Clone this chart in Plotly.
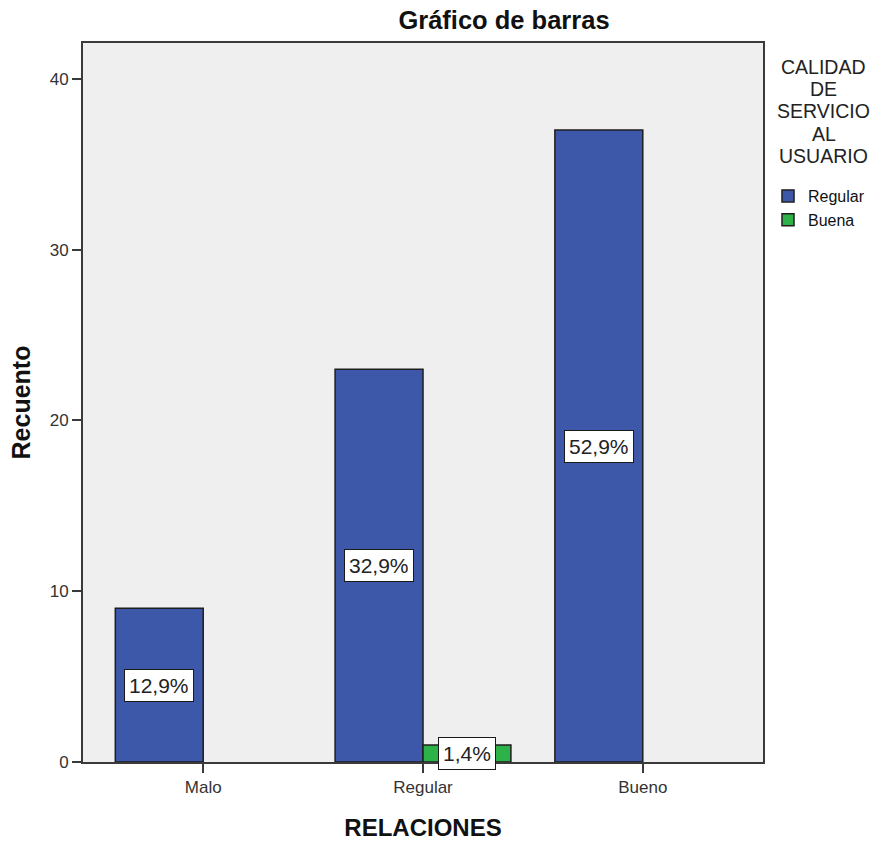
import plotly.graph_objects as go

# Counts of "CALIDAD DE SERVICIO AL USUARIO" by "RELACIONES" level
categories = ["Malo", "Regular", "Bueno"]
series_names = ["Regular", "Buena"]
regular_counts = [9, 23, 37]
buena_counts = [None, 1, None]
y_ticks = [0, 10, 20, 30, 40]
legend_title_lines = ["CALIDAD", "DE", "SERVICIO", "AL", "USUARIO"]

series_values = [regular_counts, buena_counts]
series_colors = ["#3D57A9", "#2DB24A"]
total = sum(v for s in series_values for v in s if v is not None)

FONT = "Liberation Sans, Arial, sans-serif"
W, H = 877, 841
M_L, M_R, M_T, M_B = 83, 114, 43, 79
PLOT_W = W - M_L - M_R
PLOT_H = H - M_T - M_B

fig = go.Figure()
for name, vals, color in zip(series_names, series_values, series_colors):
    fig.add_trace(go.Bar(
        x=categories,
        y=vals,
        name=name,
        marker=dict(color=color, line=dict(color="#1E1E1E", width=1.5)),
    ))

# Percentage boxes at the middle of each bar
n_series = len(series_values)
bar_w = 0.8 / n_series
for s_idx, vals in enumerate(series_values):
    offset = -0.4 + bar_w * (s_idx + 0.5)
    for c_idx, v in enumerate(vals):
        if v is None:
            continue
        pct = f"{v / total * 100:.1f}%".replace(".", ",")
        fig.add_annotation(
            x=c_idx + offset, y=v / 2, xref="x", yref="y",
            text=pct, showarrow=False,
            font=dict(family=FONT, size=21, color="#222222"),
            bgcolor="white", bordercolor="#1A1A1A", borderwidth=1, borderpad=4,
        )

# Legend heading, one centred line at a time with tight spacing
title_cx = 824
for i, line in enumerate(legend_title_lines):
    ypx = 67 + 22.2 * i
    fig.add_annotation(
        x=(title_cx - M_L) / PLOT_W, y=(H - M_B - ypx) / PLOT_H,
        xref="paper", yref="paper", xanchor="center", yanchor="middle",
        text=line, showarrow=False,
        font=dict(family=FONT, size=19.5, color="#222222"),
    )

fig.update_layout(
    width=W, height=H,
    margin=dict(l=M_L, r=M_R, t=M_T, b=M_B, autoexpand=False),
    paper_bgcolor="white",
    plot_bgcolor="#EFEFEF",
    barmode="group",
    bargap=0.2,
    bargroupgap=0,
    font=dict(family=FONT, color="#222222"),
    title=dict(
        text="Gráfico de barras",
        font=dict(family=FONT, size=25.5, color="#111111", weight="bold"),
        x=504 / W, xref="container", xanchor="center",
        y=1 - 20 / H, yref="container", yanchor="middle",
    ),
    legend=dict(
        font=dict(family=FONT, size=16, color="#111111"),
        xref="container", yref="container",
        x=768 / W, xanchor="left",
        y=1 - 179 / H, yanchor="top",
        bgcolor="rgba(0,0,0,0)",
        itemwidth=30,
        tracegroupgap=0,
    ),
    showlegend=True,
)

fig.update_xaxes(
    type="category",
    range=[-0.547, 2.547],
    showgrid=False,
    showline=True, linecolor="#3A3A3A", linewidth=2, mirror=True,
    ticks="outside", ticklen=9, tickwidth=1.5, tickcolor="#3A3A3A",
    tickfont=dict(family=FONT, size=17, color="#333333"),
    title=dict(text="RELACIONES", standoff=26,
               font=dict(family=FONT, size=24, color="#111111", weight="bold")),
)
fig.update_yaxes(
    range=[0, 42.1],
    tickvals=y_ticks,
    showgrid=False, zeroline=False,
    showline=True, linecolor="#3A3A3A", linewidth=2, mirror=True,
    ticks="outside", ticklen=9, tickwidth=1.5, tickcolor="#3A3A3A",
    tickfont=dict(family=FONT, size=17, color="#333333"),
    title=dict(text="Recuento", standoff=12,
               font=dict(family=FONT, size=25, color="#111111", weight="bold")),
)

fig.write_html("out.html")
